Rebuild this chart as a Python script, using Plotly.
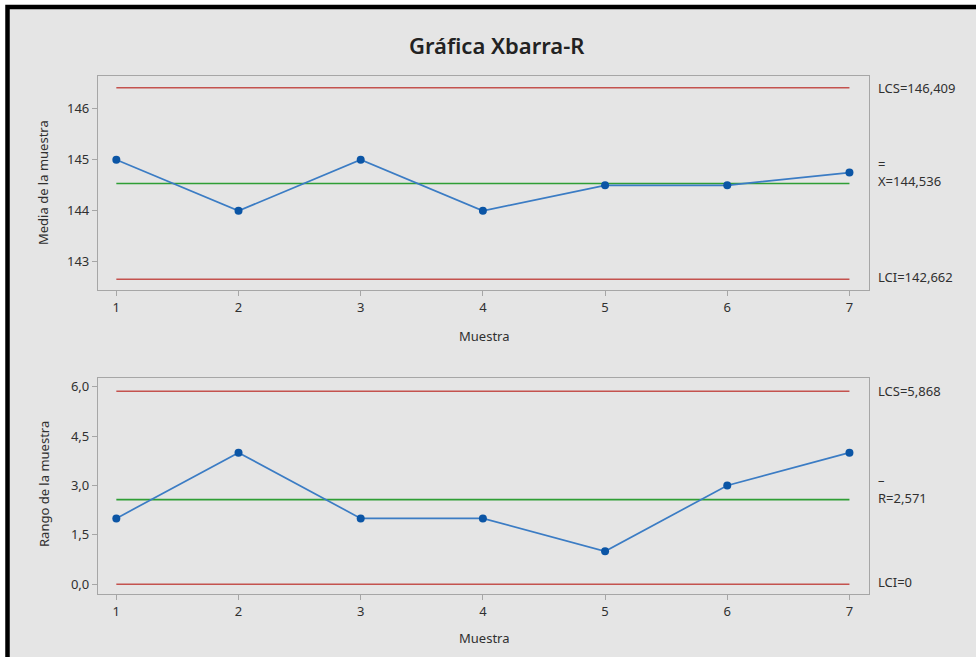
import plotly.graph_objects as go

# Sample data: subgroup means and ranges
muestra = [1, 2, 3, 4, 5, 6, 7]
medias = [145.0, 144.0, 145.0, 144.0, 144.5, 144.5, 144.75]
rangos = [2, 4, 2, 2, 1, 3, 4]

# Control limits
xbar_lcs, xbar_centro, xbar_lci = 146.409, 144.536, 142.662
r_lcs, r_centro, r_lci = 5.868, 2.571, 0.0

W, H = 976, 657
FONT = "Noto Sans"
ROJO = "#c4524e"
VERDE = "#2f9e35"
AZUL_LINEA = "#3b7cc4"
AZUL_PUNTO = "#0b55a5"
GRIS_TEXTO = "#303030"


def px(xp):
    return xp / W


def py(yp):
    return 1 - yp / H


fig = go.Figure()

xs = [muestra[0], muestra[-1]]
for yref_axis, xaxis, vals, mid in [
    ("y", "x", (xbar_lcs, xbar_lci), xbar_centro),
    ("y2", "x2", (r_lcs, r_lci), r_centro),
]:
    for v in vals:
        fig.add_trace(go.Scatter(x=xs, y=[v, v], mode="lines",
                                 line=dict(color=ROJO, width=1.5),
                                 xaxis=xaxis, yaxis=yref_axis, hoverinfo="skip"))
    fig.add_trace(go.Scatter(x=xs, y=[mid, mid], mode="lines",
                             line=dict(color=VERDE, width=1.6),
                             xaxis=xaxis, yaxis=yref_axis, hoverinfo="skip"))

fig.add_trace(go.Scatter(x=muestra, y=medias, mode="lines+markers",
                         line=dict(color=AZUL_LINEA, width=1.7),
                         marker=dict(color=AZUL_PUNTO, size=8),
                         xaxis="x", yaxis="y"))
fig.add_trace(go.Scatter(x=muestra, y=rangos, mode="lines+markers",
                         line=dict(color=AZUL_LINEA, width=1.7),
                         marker=dict(color=AZUL_PUNTO, size=8),
                         xaxis="x2", yaxis="y2"))

axis_common = dict(
    showgrid=False, zeroline=False, showline=True, mirror=True,
    linecolor="#a6a6a6", linewidth=1.2,
    ticks="outside", ticklen=5, tickcolor="#a6a6a6",
    tickfont=dict(family=FONT, size=13, color=GRIS_TEXTO),
)

dom_x = [px(98), px(869)]

fig.update_layout(
    width=W, height=H,
    margin=dict(l=0, r=0, t=0, b=0),
    paper_bgcolor="white",
    plot_bgcolor="white",
    showlegend=False,
    separators=",.",
    font=dict(family=FONT, color=GRIS_TEXTO),
    xaxis=dict(axis_common, domain=dom_x, range=[0.85, 7.16],
               tickvals=muestra, anchor="y"),
    yaxis=dict(axis_common, domain=[py(290), py(76)], range=[142.45, 146.64],
               tickvals=[143, 144, 145, 146], anchor="x"),
    xaxis2=dict(axis_common, domain=dom_x, range=[0.85, 7.16],
                tickvals=muestra, anchor="y2"),
    yaxis2=dict(axis_common, domain=[py(594), py(378)], range=[-0.30, 6.27],
                tickvals=[0, 1.5, 3, 4.5, 6], tickformat=".1f", anchor="x2"),
)

# Gray panel with black frame
fig.add_shape(type="rect", xref="paper", yref="paper",
              x0=px(7.5), x1=1.05, y0=-0.05, y1=py(7),
              fillcolor="#e5e5e5", line=dict(color="black", width=4.5),
              layer="below")

annotations = [
    dict(text="Gráfica Xbarra-R", x=px(497), y=py(45),
         font=dict(size=22, color="#222222", family=FONT, weight=600)),
    dict(text="Muestra", x=(px(98) + px(869)) / 2, y=py(336),
         font=dict(size=13)),
    dict(text="Muestra", x=(px(98) + px(869)) / 2, y=py(638),
         font=dict(size=13)),
    dict(text="Media de la muestra", x=px(43), y=py(183), textangle=-90,
         font=dict(size=13)),
    dict(text="Rango de la muestra", x=px(44), y=py(484), textangle=-90,
         font=dict(size=13)),
]
for a in annotations:
    a.update(xref="paper", yref="paper", showarrow=False,
             xanchor="center", yanchor="middle")
    fig.add_annotation(**a)

# Limit labels to the right of each chart
lab_x = px(876)
labels = [
    ("y", xbar_lcs, f"LCS={xbar_lcs:.3f}".replace(".", ","), 0),
    ("y", xbar_centro, f"X={xbar_centro:.3f}".replace(".", ","), 2),
    ("y", xbar_centro, "=", 19),
    ("y", xbar_lci, f"LCI={xbar_lci:.3f}".replace(".", ","), 2),
    ("y2", r_lcs, f"LCS={r_lcs:.3f}".replace(".", ","), 0),
    ("y2", r_centro, f"R={r_centro:.3f}".replace(".", ","), 2),
    ("y2", r_centro, "–", 20),
    ("y2", r_lci, "LCI=0", 2),
]
for yref, val, txt, shift in labels:
    fig.add_annotation(text=txt, xref="paper", yref=yref, x=lab_x, y=val,
                       xanchor="left", yanchor="middle", yshift=shift,
                       showarrow=False, font=dict(size=13, color=GRIS_TEXTO))

fig.write_html("out.html")
